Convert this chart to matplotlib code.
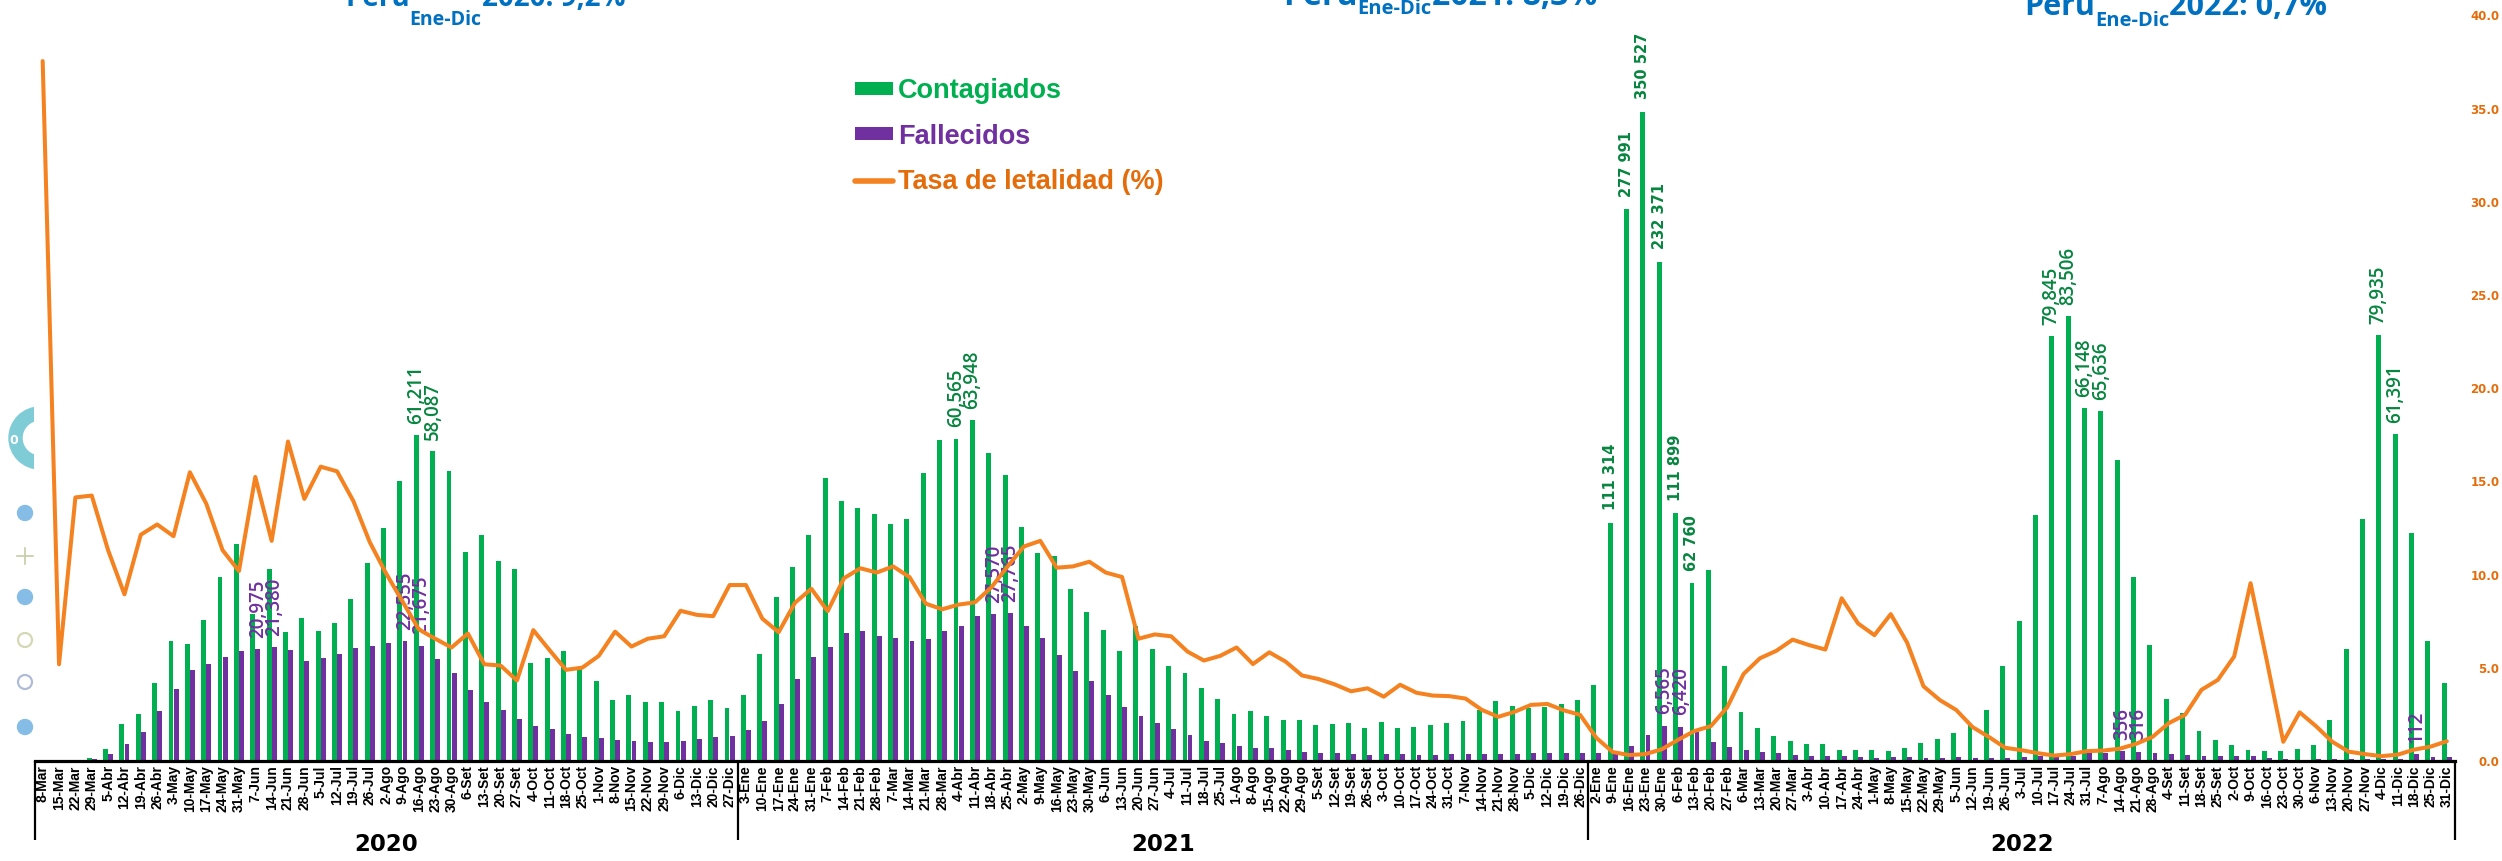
import matplotlib
matplotlib.use("Agg")
import matplotlib.pyplot as plt
import numpy as np
import pandas as pd
from matplotlib.patches import Patch, Circle, Wedge, Rectangle
from matplotlib.lines import Line2D

# ---- datos (semanas epidemiologicas, Peru 2020-2022) ----
meses = ["Ene", "Feb", "Mar", "Abr", "May", "Jun", "Jul", "Ago", "Set", "Oct", "Nov", "Dic"]
fechas = pd.date_range("2020-03-08", "2022-12-25", freq="7D")
semanas = [f"{d.day}-{meses[d.month - 1]}" for d in fechas] + ["31-Dic"]
anio_semana = [d.year for d in fechas] + [2022]

contagiados = [
    # 2020
    0, 50, 150, 580, 2330, 6880, 8820, 14590, 22470, 22030, 26410, 34550, 40680,
    27540, 36110, 24310, 26850, 24480, 25960, 30440, 37090, 43750, 52490, 61250,
    58190, 54500, 39270, 42430, 37620, 36040, 18440, 19400, 20720, 17220, 14950,
    11360, 12410, 11090, 11000, 9340, 10300, 11450, 10040,
    # 2021
    12410, 20110, 30870, 36470, 42510, 53190, 48730, 47580, 46450, 44440, 45500,
    54070, 60200, 60540, 63960, 57920, 53720, 44010, 39010, 38480, 32350, 28070,
    24570, 20720, 25360, 20980, 17920, 16600, 13800, 11690, 8890, 9420, 8400, 7670,
    7760, 6750, 7020, 7200, 6190, 7390, 6280, 6470, 6750, 7200, 7480, 9510, 11260,
    10340, 9960, 10060, 10620, 11360,
    # 2022
    14230, 44690, 103570, 121940, 93790, 46530, 33330, 35830, 17920, 9140, 6280,
    4720, 3700, 3230, 3230, 2120, 2120, 2030, 1950, 2500, 3330, 4160, 5170, 7020,
    9600, 17920, 26310, 46150, 79860, 83550, 66190, 65630, 56490, 34540, 21790,
    11730, 8970, 5550, 3990, 3050, 2030, 1860, 1860, 2310, 3050, 7670, 21060,
    45420, 79960, 61400, 42750, 22450, 14590,
]

fallecidos = [
    # 2020
    0, 0, 0, 410, 1370, 3120, 5400, 9340, 13540, 17030, 18180, 19500, 20720,
    21070, 21340, 20890, 18870, 19330, 20020, 21150, 21680, 22110, 22560, 21680,
    19140, 16600, 13370, 11000, 9590, 7860, 6540, 5920, 5060, 4440, 4270, 4000,
    3830, 3650, 3650, 3740, 4080, 4440, 4700,
    # 2021
    5850, 7600, 10660, 15470, 19500, 21410, 23950, 24480, 23520, 23160, 22470,
    22820, 24480, 25360, 27280, 27540, 27710, 25270, 23090, 19830, 16860, 14950,
    12410, 10210, 8380, 7070, 6020, 4890, 3740, 3390, 2780, 2410, 2410, 2030,
    1770, 1490, 1490, 1390, 1200, 1300, 1300, 1200, 1200, 1300, 1300, 1300, 1390,
    1390, 1580, 1580, 1490, 1490,
    # 2022
    1580, 1770, 2780, 4910, 6660, 6470, 5450, 3610, 2590, 2120, 1770, 1490, 1200,
    1020, 1020, 920, 730, 550, 730, 730, 550, 550, 730, 640, 640, 640, 830, 1020,
    830, 1020, 1490, 1490, 1950, 1770, 1490, 1300, 1200, 1020, 920, 920, 920, 550,
    360, 270, 360, 360, 360, 360, 450, 450, 1300, 830, 730,
]

tasa = [
    # 2020
    37.55, 5.19, 14.14, 14.24, 11.31, 8.94, 12.14, 12.69, 12.06, 15.49, 13.81,
    11.31, 10.19, 15.24, 11.81, 17.14, 14.06, 15.79, 15.54, 13.94, 11.74, 10.06,
    8.56, 7.06, 6.56, 6.09, 6.84, 5.19, 5.12, 4.32, 7.02, 5.94, 4.89, 5.01, 5.64,
    6.94, 6.14, 6.56, 6.69, 8.06, 7.84, 7.77, 9.44,
    # 2021
    9.44, 7.64, 6.91, 8.49, 9.24, 8.04, 9.81, 10.34, 10.11, 10.44, 9.87, 8.44,
    8.14, 8.39, 8.51, 9.31, 10.44, 11.51, 11.81, 10.37, 10.44, 10.69, 10.11, 9.87,
    6.56, 6.79, 6.69, 5.87, 5.39, 5.64, 6.09, 5.20, 5.83, 5.33, 4.59, 4.40, 4.11,
    3.74, 3.90, 3.45, 4.09, 3.66, 3.51, 3.48, 3.35, 2.74, 2.37, 2.64, 3.01, 3.06,
    2.72, 2.48,
    # 2022
    1.24, 0.48, 0.32, 0.37, 0.63, 1.14, 1.61, 1.87, 2.88, 4.67, 5.51, 5.91, 6.51,
    6.22, 5.98, 8.73, 7.38, 6.75, 7.88, 6.35, 4.01, 3.27, 2.74, 1.82, 1.29, 0.71,
    0.58, 0.42, 0.29, 0.37, 0.53, 0.56, 0.66, 0.92, 1.29, 2.03, 2.48, 3.82, 4.35,
    5.61, 9.54, 5.35, 1.03, 2.61, 1.87, 1.03, 0.50, 0.37, 0.26, 0.34, 0.61, 0.77,
    1.06,
]

# etiquetas de valor (indice de semana -> texto)
etq_contagiados = {23: "61,211", 24: "58,087", 56: "60,565", 57: "63,948",
                   123: "79,845", 124: "83,506", 125: "66,148", 126: "65,636",
                   143: "79,935", 144: "61,391"}
etq_contagiados_ola3 = {96: "111 314", 97: "277 991", 98: "350 527",
                        99: "232 371", 100: "111 899", 101: "62 760"}
etq_fallecidos = {13: "20,975", 14: "21,380", 22: "22,555", 23: "21,675",
                  58: "27,570", 59: "27,765", 99: "6,565", 100: "6,420",
                  127: "356", 128: "316", 145: "112"}

titulos = [("2020", "9,2%"), ("2021", "8,3%"), ("2022", "0,7%")]

# ---- estilo ----
verde = "#00B050"
verde_osc = "#078540"
morado = "#7030A0"
naranja = "#F58220"
naranja_txt = "#E46C0A"
azul = "#0070C0"

W, H = 2502, 861
fig = plt.figure(figsize=(W / 100, H / 100), dpi=100)
fig.patch.set_facecolor("white")
ax = fig.add_axes([34.5 / W, 1 - 761 / H, (2455 - 34.5) / W, (761 - 15.4) / H])

n = len(semanas)
x = np.arange(n)
bw = 0.30
ax.bar(x - 0.155, contagiados, bw, color=verde, zorder=2)
ax.bar(x + 0.155, fallecidos, bw, color=morado, zorder=2)
ax.set_xlim(-0.5, n - 0.5)
ax.set_ylim(0, 140000)
ax.set_yticks([])
for s in ["top", "left", "right"]:
    ax.spines[s].set_visible(False)
ax.spines["bottom"].set_linewidth(2.3)
ax.set_xticks(x)
ax.set_xticklabels(semanas, rotation=90, fontsize=10, fontweight="bold",
                   family="Liberation Sans")
ax.tick_params(axis="x", length=0, pad=3)

# etiquetas de barras
for i, t in etq_contagiados.items():
    ax.annotate(t, (i - 0.155, contagiados[i]), xytext=(0, 8), textcoords="offset points",
                rotation=90, ha="center", va="bottom", color=verde_osc,
                fontsize=13.5, family="Open Sans", fontweight="semibold")
for i, t in etq_contagiados_ola3.items():
    ax.annotate(t, (i - 0.155, contagiados[i]), xytext=(0, 9), textcoords="offset points",
                rotation=90, ha="center", va="bottom", color=verde_osc,
                fontsize=10.5, family="DejaVu Sans", fontweight="bold")
for i, t in etq_fallecidos.items():
    ax.annotate(t, (i + 0.155, fallecidos[i]), xytext=(0, 8), textcoords="offset points",
                rotation=90, ha="center", va="bottom", color=morado,
                fontsize=13.5, family="Open Sans", fontweight="semibold")

# tasa de letalidad (eje derecho)
ax2 = ax.twinx()
ax2.plot(x, tasa, color=naranja, lw=2.9, solid_joinstyle="round", solid_capstyle="round")
ax2.set_ylim(0, 40)
ax2.set_yticks(np.arange(0, 41, 5))
ax2.set_yticklabels([f"{v:.1f}" for v in np.arange(0, 41, 5)])
for s in ax2.spines.values():
    s.set_visible(False)
ax2.tick_params(axis="y", length=0, pad=32, labelcolor=naranja_txt, labelsize=8.5)
for lab in ax2.get_yticklabels():
    lab.set_horizontalalignment("right")
    lab.set_fontweight("bold")

# separadores de anio y etiquetas
trans = ax.get_xaxis_transform()
anios = sorted(set(anio_semana))
limites = [-0.5]
for a in anios:
    limites.append(max(i for i, v in enumerate(anio_semana) if v == a) + 0.5)
for xv in limites:
    ax.plot([xv, xv], [0, -0.106], transform=trans, color="black", lw=1.6,
             clip_on=False, solid_capstyle="butt")
for k, a in enumerate(anios):
    ax.text((limites[k] + limites[k + 1]) / 2, -0.112, str(a), transform=trans,
            ha="center", va="center", fontsize=16.5, fontweight="bold",
            family="Liberation Sans Narrow")

# leyenda
handles = [Patch(facecolor=verde), Patch(facecolor=morado),
           Line2D([], [], color=naranja, lw=4, solid_capstyle="round")]
ax.legend(handles, ["Contagiados", "Fallecidos", "Tasa de letalidad (%)"],
          loc="upper left", bbox_to_anchor=(855 / W, 1 - 78 / H),
          bbox_transform=fig.transFigure, frameon=False,
          prop=dict(family="Liberation Sans", weight="bold", size=19.5),
          labelcolor=[verde, morado, naranja_txt],
          handlelength=1.4, handleheight=0.36, handletextpad=0.2,
          labelspacing=0.72, borderpad=0, borderaxespad=0)

# titulos (recortados en el borde superior)
renderer = fig.canvas.get_renderer()
def titulo(x0, base, sub_base, size, sub_size, anio, valor):
    kw = dict(color=azul, family="Open Sans", fontweight="bold", va="baseline", ha="left")
    t1 = fig.text(x0 / W, 1 - base / H, "Perú", fontsize=size, **kw)
    x1 = t1.get_window_extent(renderer).x1
    t2 = fig.text(x1 / W, 1 - sub_base / H, "Ene-Dic", fontsize=sub_size, **kw)
    x2 = t2.get_window_extent(renderer).x1
    fig.text(x2 / W, 1 - base / H, f"{anio}: {valor}", fontsize=size, **kw)

titulo(345, 6, 25, 20, 14, *titulos[0])
titulo(1283, 5, 14, 23, 14.5, *titulos[1])
titulo(2024, 15, 26, 22, 14.5, *titulos[2])

# iconos del borde izquierdo
clip = Rectangle((0, 0), 33.5 / 100, H / 100, transform=fig.dpi_scale_trans)
anillo = Wedge((40 / 100, (H - 438) / 100), 31 / 100, 90, 270, width=13 / 100,
               color="#7FCCD6", transform=fig.dpi_scale_trans)
anillo.set_clip_path(clip)
fig.add_artist(anillo)
fig.text(14 / W, 1 - 440 / H, "0", color="white", fontsize=9, fontweight="bold",
         ha="center", va="center")
iconos = [(513, "dot"), (556, "plus"), (597, "dot"), (640, "ring_o"), (682, "ring_b"), (727, "dot")]
for yy, tipo in iconos:
    c = (25 / 100, (H - yy) / 100)
    if tipo == "dot":
        fig.add_artist(Circle(c, 7.5 / 100, color="#86BDE6", transform=fig.dpi_scale_trans))
    elif tipo == "plus":
        fig.add_artist(Line2D([17 / 100, 33 / 100], [c[1], c[1]], color="#C3CDA6", lw=1.2,
                              transform=fig.dpi_scale_trans))
        fig.add_artist(Line2D([c[0], c[0]], [c[1] - 0.08, c[1] + 0.08], color="#C3CDA6", lw=1.2,
                              transform=fig.dpi_scale_trans))
    else:
        ec = "#D5D8B5" if tipo == "ring_o" else "#AFBCD8"
        fig.add_artist(Circle(c, 7 / 100, facecolor="none", edgecolor=ec, lw=1.6,
                              transform=fig.dpi_scale_trans))

fig.savefig("out.png", dpi=100, facecolor="white")
